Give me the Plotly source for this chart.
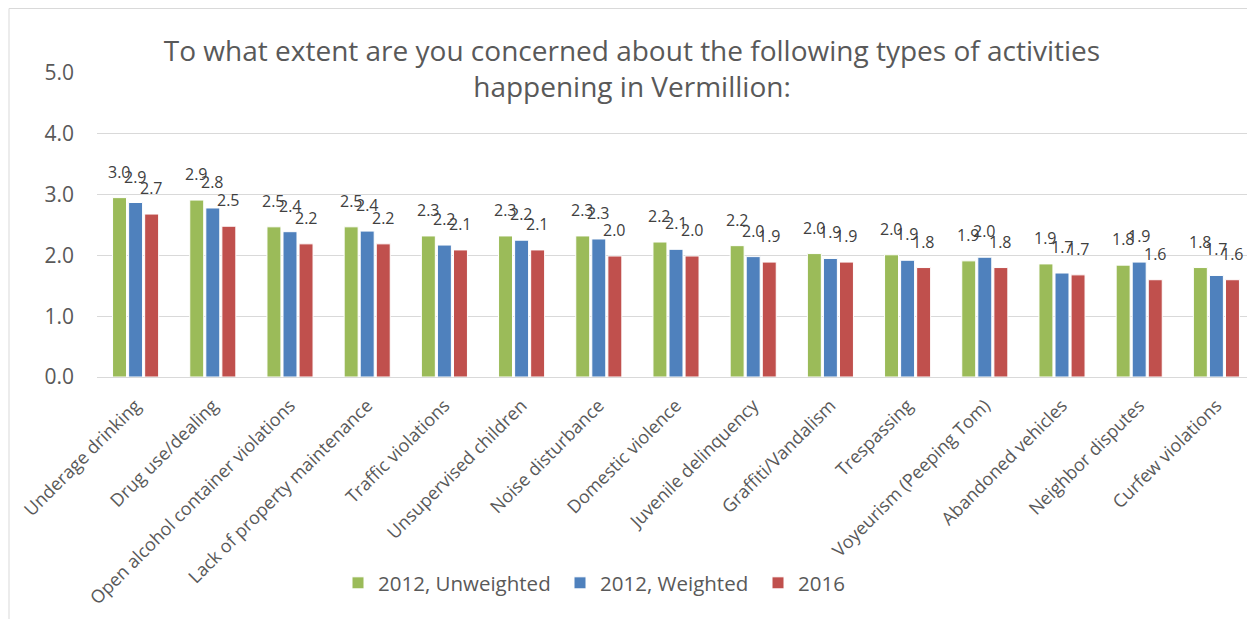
import plotly.graph_objects as go

categories = ["Underage drinking", "Drug use/dealing", "Open alcohol container violations",
              "Lack of property maintenance", "Traffic violations", "Unsupervised children",
              "Noise disturbance", "Domestic violence", "Juvenile delinquency", "Graffiti/Vandalism",
              "Trespassing", "Voyeurism (Peeping Tom)", "Abandoned vehicles", "Neighbor disputes",
              "Curfew violations"]
unweighted_2012 = [2.95, 2.91, 2.47, 2.47, 2.32, 2.32, 2.32, 2.22, 2.16, 2.03, 2.01, 1.91, 1.86, 1.84, 1.80]
weighted_2012 = [2.87, 2.78, 2.39, 2.40, 2.17, 2.25, 2.27, 2.10, 1.98, 1.95, 1.92, 1.97, 1.71, 1.89, 1.67]
values_2016 = [2.68, 2.48, 2.19, 2.19, 2.09, 2.09, 1.99, 1.99, 1.89, 1.89, 1.80, 1.80, 1.68, 1.60, 1.60]
series_names = ["2012, Unweighted", "2012, Weighted", "2016"]
colors = ["#9BBB59", "#4F81BD", "#C0504D"]
y_ticks = [0, 1, 2, 3, 4, 5]
y_tick_labels = ["0.0", "1.0", "2.0", "3.0", "4.0", "5.0"]

FONT = "Open Sans"
TXT = "#595959"

# page body has an 8px margin: figure coordinates are page coordinates minus 8
OFF = 8
W, H = 1255 - OFF, 619 - OFF
L, R, T = 97 - OFF, 0, 73 - OFF
B = H - (377 - OFF)
PW, PH = W - L - R, H - T - B

fig = go.Figure()
series = [unweighted_2012, weighted_2012, values_2016]
legend_ids = ["legend", "legend2", "legend3"]
for name, vals, col, lg in zip(series_names, series, colors, legend_ids):
    fig.add_trace(go.Bar(x=categories, y=vals, name=name, legend=lg,
                         marker=dict(color=col, line=dict(color="white", width=1))))

cat_w = PW / len(categories)
bargap, groupgap = 0.376, 0.13
slot = cat_w * (1 - bargap) / 3
annotations = []
for i, vals in enumerate(series):
    for c, v in zip(categories, vals):
        annotations.append(dict(x=c, y=v, text=f"{v:.1f}", showarrow=False,
                                xshift=(i - 1) * slot, yshift=13, yanchor="bottom",
                                font=dict(family=FONT, size=16, color="#404040")))

title_center_page_y = 68
annotations.append(dict(xref="paper", yref="paper", x=(632 - 97) / PW,
                        y=1 + (73 - title_center_page_y) / PH,
                        xanchor="center", yanchor="middle", showarrow=False,
                        text="To what extent are you concerned about the following types of activities<br>happening in Vermillion:",
                        font=dict(family=FONT, size=28, color=TXT), bgcolor="white",
                        borderpad=4, width=950))


def lx(page_x):
    return (page_x - OFF - L) / PW


leg_y = (377 - 583) / PH
leg_common = dict(orientation="h", y=leg_y, xanchor="left", yanchor="middle",
                  font=dict(family=FONT, size=20.5, color=TXT), itemclick=False,
                  bgcolor="rgba(0,0,0,0)")

fig.update_layout(
    width=W, height=H,
    margin=dict(l=L, r=R, t=T, b=B),
    paper_bgcolor="white", plot_bgcolor="white",
    barmode="group", bargap=bargap, bargroupgap=groupgap,
    annotations=annotations,
    font=dict(family=FONT, color=TXT),
    legend=dict(x=lx(338), **leg_common),
    legend2=dict(x=lx(560), **leg_common),
    legend3=dict(x=lx(758), **leg_common),
    shapes=[dict(type="rect", xref="paper", yref="paper",
                 x0=(1 - L) / PW, x1=1.02, y0=-0.9, y1=1 + (T - 0.5) / PH,
                 line=dict(color="#D9D9D9", width=1), layer="below")],
    showlegend=True,
)
fig.update_xaxes(tickangle=-45, tickfont=dict(family=FONT, size=18, color=TXT),
                 showline=True, linecolor="#D9D9D9", linewidth=1, ticks="", showgrid=False,
                 ticklabelstandoff=10)
fig.update_yaxes(range=[0, 5], tickvals=y_ticks, ticktext=y_tick_labels,
                 tickfont=dict(family=FONT, size=21, color=TXT), showgrid=True,
                 gridcolor="#D9D9D9", gridwidth=1, zeroline=False, ticklabelstandoff=22,
                 showline=False)

fig.write_html("out.html")
